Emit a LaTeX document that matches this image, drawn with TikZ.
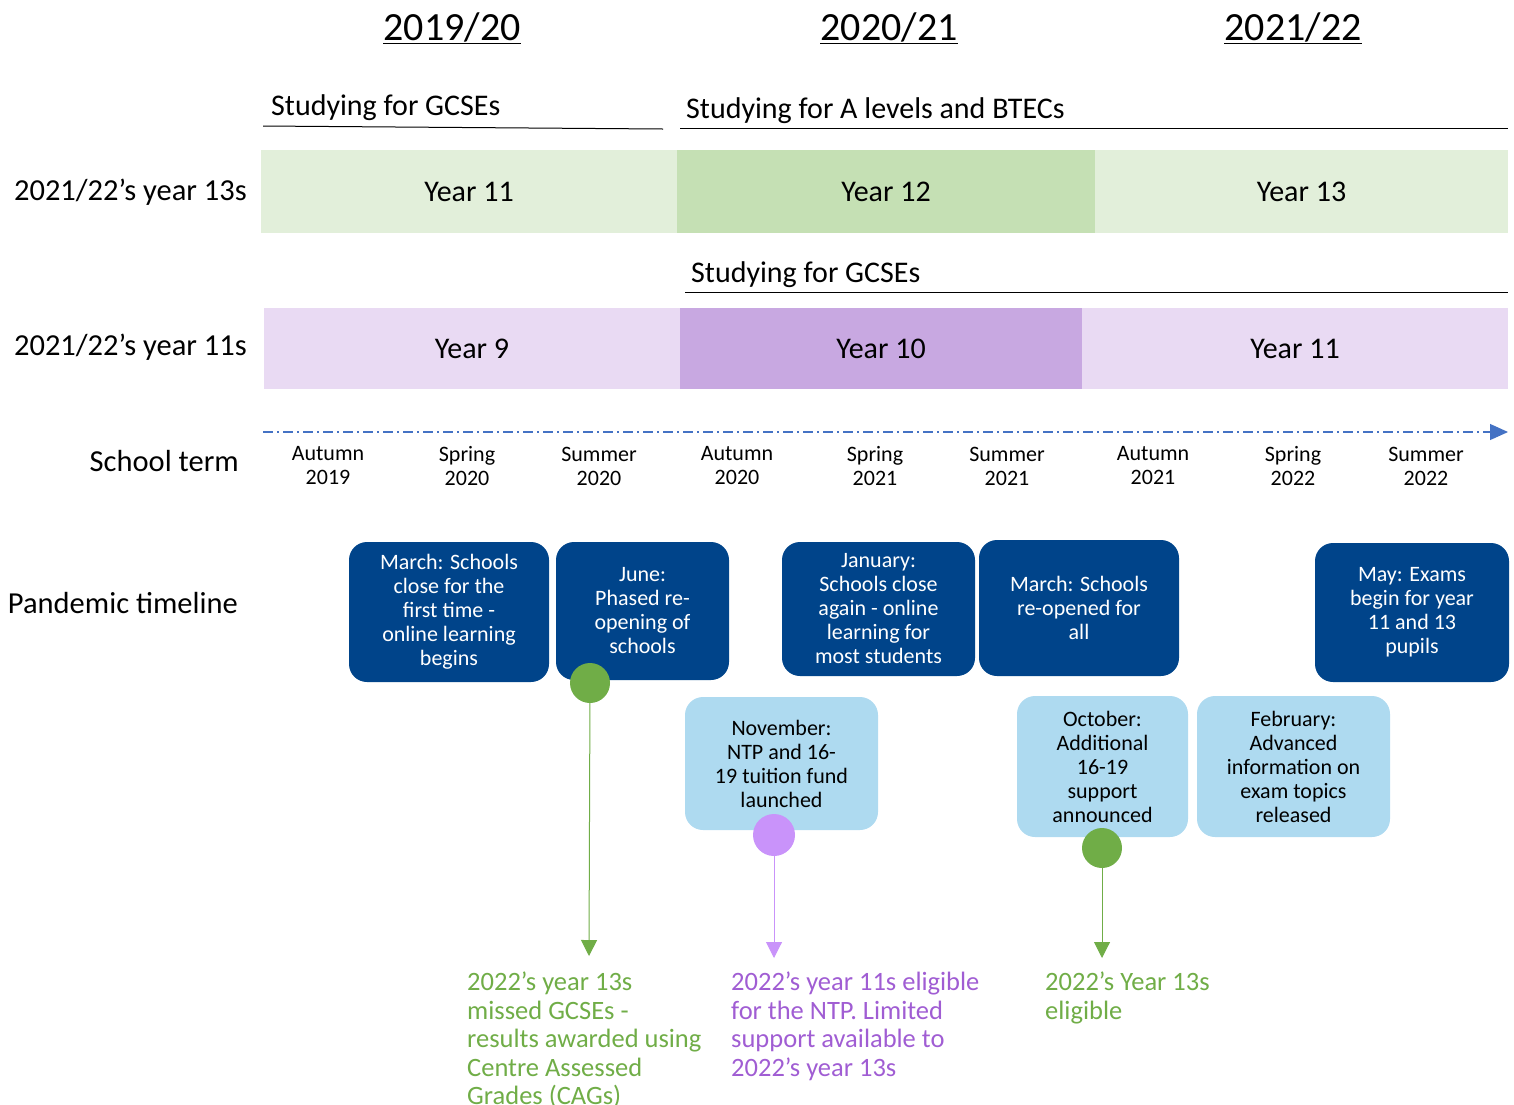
\documentclass[tikz,border=0pt]{standalone}
\usepackage{fontspec}
\setmainfont{Carlito}
\usetikzlibrary{arrows.meta}
\definecolor{DarkBlue}{HTML}{00448A}
\definecolor{LightBlue}{HTML}{AEDAF0}
\definecolor{PaleGreen}{HTML}{E2EFDA}
\definecolor{MidGreen}{HTML}{C5E0B4}
\definecolor{PalePurple}{HTML}{E9DAF3}
\definecolor{MidPurple}{HTML}{C8A8E1}
\definecolor{EventGreen}{HTML}{70AD47}
\definecolor{EventPurple}{HTML}{C993FA}
\definecolor{TextPurple}{HTML}{A05DD3}
\definecolor{TermBlue}{HTML}{4472C4}

\begin{document}
\begin{tikzpicture}[
        % Environment Config
        x=1pt, y=-1pt,
        Bar/.style={% Style for the year bars
          inner sep=0pt,
          minimum height=83pt,
          font=\fontsize{30}{34}\selectfont
        },
        RowLabel/.style={% Style for the labels on the left
          anchor=east,
          inner sep=0pt,
          font=\fontsize{30.5}{34}\selectfont
        },
        Term/.style={% Style for the school terms
          align=center,
          inner sep=0pt,
          font=\fontsize{22}{24}\selectfont
        },
        Event/.style={% Style for the pandemic events
          rounded corners=18pt,
          align=center,
          inner sep=0pt,
          font=\fontsize{22}{24}\selectfont
        },
        Dot/.style={% Style for the circle marks
          circle,
          inner sep=0pt,
          minimum size=40pt
        },
        Outcome/.style={% Style for the coloured notes
          anchor=north west,
          align=left,
          inner sep=0pt,
          font=\fontsize{26.5}{28.4}\selectfont
        }
      ]
      \useasboundingbox (0,0) rectangle (1514,1104);

      % Academic years
      \node[font=\fontsize{40}{44}\selectfont] (H1) at (452,28) {\underline{2019/20}};
      \node[font=\fontsize{40}{44}\selectfont] (H2) at (889,28) {\underline{2020/21}};
      \node[font=\fontsize{40}{44}\selectfont] (H3) at (1293,28) {\underline{2021/22}};

      % What is being studied
      \node[anchor=west, inner sep=0pt, font=\fontsize{30}{32}\selectfont] (S1) at (271,108) {Studying for GCSEs};
      \node[anchor=west, inner sep=0pt, font=\fontsize{30}{32}\selectfont] (S2) at (686,111) {Studying for A levels and BTECs};
      \node[anchor=west, inner sep=0pt, font=\fontsize{30}{32}\selectfont] (S3) at (691,275) {Studying for GCSEs};
      \draw[line width=1pt] (263,126) -- (663,129);
      \draw[line width=1pt] (680,128) -- (1508,128);
      \draw[line width=1pt] (685,292) -- (1508,292);

      % Year 13s row
      \node[RowLabel] (R13) at (247,192) {2021/22’s year 13s};
      \node[Bar, fill=PaleGreen, minimum width=416pt] (G11) at (469,191.5) {Year 11};
      \node[Bar, fill=MidGreen, minimum width=418pt] (G12) at (886,191.5) {Year 12};
      \node[Bar, fill=PaleGreen, minimum width=413pt] (G13) at (1301.5,191.5) {Year 13};

      % Year 11s row
      \node[RowLabel] (R11) at (247,347) {2021/22’s year 11s};
      \node[Bar, fill=PalePurple, minimum width=416pt, minimum height=81pt] (P9) at (472,348.5) {Year 9};
      \node[Bar, fill=MidPurple, minimum width=402pt, minimum height=81pt] (P10) at (881,348.5) {\raisebox{-4pt}{Year 10}};
      \node[Bar, fill=PalePurple, minimum width=426pt, minimum height=81pt] (P11) at (1295,348.5) {Year 11};

      % School terms
      \node[RowLabel] (RT) at (239,461) {School term};
      \coordinate (T0) at (263,432);
      \coordinate (T1) at (1508,432);
      \draw[TermBlue, line width=1.2pt, dash pattern=on 10pt off 4pt on 2pt off 4pt,
            -{Triangle[length=18pt,width=16pt]}] (T0) -- (T1);
      \node[Term] (A19) at (328,466) {Autumn\\2019};
      \node[Term] (Sp20) at (467,466) {Spring\\2020};
      \node[Term] (Su20) at (599,466) {Summer\\2020};
      \node[Term] (A20) at (737,466) {Autumn\\2020};
      \node[Term] (Sp21) at (875,466) {Spring\\2021};
      \node[Term] (Su21) at (1007,466) {Summer\\2021};
      \node[Term] (A21) at (1153,466) {Autumn\\2021};
      \node[Term] (Sp22) at (1293,466) {Spring\\2022};
      \node[Term] (Su22) at (1426,466) {Summer\\2022};

      % Pandemic timeline
      \node[RowLabel] (RP) at (238,603) {Pandemic timeline};
      \node[Event, fill=DarkBlue, text=white, minimum width=200pt, minimum height=140pt] (E1) at (449,612)
        {March: Schools\\close for the\\first time -\\online learning\\begins};
      \node[Event, fill=DarkBlue, text=white, minimum width=173pt, minimum height=138pt] (E2) at (642.5,611)
        {June:\\Phased re-\\opening of\\schools};
      \node[Event, fill=DarkBlue, text=white, minimum width=193pt, minimum height=134pt] (E3) at (878.5,609)
        {January:\\Schools close\\again - online\\learning for\\most students};
      \node[Event, fill=DarkBlue, text=white, minimum width=200pt, minimum height=136pt] (E4) at (1079,608)
        {March: Schools\\re-opened for\\all};
      \node[Event, fill=DarkBlue, text=white, minimum width=194pt, minimum height=139pt] (E5) at (1412,612.5)
        {May: Exams\\begin for year\\11 and 13\\pupils};
      \node[Event, fill=LightBlue, minimum width=193pt, minimum height=133pt] (E6) at (781.5,763.5)
        {November:\\NTP and 16-\\19 tuition fund\\launched};
      \node[Event, fill=LightBlue, minimum width=171pt, minimum height=141pt] (E7) at (1102.5,766.5)
        {October:\\Additional\\16-19\\support\\announced};
      \node[Event, fill=LightBlue, minimum width=193pt, minimum height=141pt] (E8) at (1293.5,766.5)
        {February:\\Advanced\\information on\\exam topics\\released};

      % Marks and what followed
      \node[Dot, fill=EventGreen] (D1) at (590,683) {};
      \node[Dot, fill=EventPurple, minimum size=42pt] (D2) at (774,835) {};
      \node[Dot, fill=EventGreen] (D3) at (1102,848) {};
      \coordinate (D1 END) at (589,956);
      \coordinate (D2 END) at (774,958);
      \coordinate (D3 END) at (1102,958);
      \draw[EventGreen, line width=1pt, -{Triangle[length=16pt,width=16pt]}] (D1) -- (D1 END);
      \draw[EventPurple, line width=1pt, -{Triangle[length=16pt,width=16pt]}] (D2) -- (D2 END);
      \draw[EventGreen, line width=1pt, -{Triangle[length=16pt,width=16pt]}] (D3) -- (D3 END);

      \node[Outcome, text=EventGreen] (O1) at (467,972)
        {2022’s year 13s\\missed GCSEs -\\results awarded using\\Centre Assessed\\Grades (CAGs)};
      \node[Outcome, text=TextPurple] (O2) at (731,972)
        {2022’s year 11s eligible\\for the NTP. Limited\\support available to\\2022’s year 13s};
      \node[Outcome, text=EventGreen] (O3) at (1045,972)
        {2022’s Year 13s\\eligible};

      \end{tikzpicture}
\end{document}
